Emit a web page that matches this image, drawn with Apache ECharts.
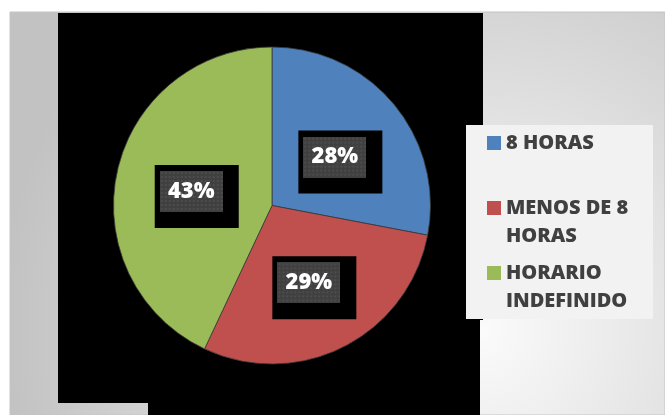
<!DOCTYPE html>
<html>
<head>
<meta charset="utf-8">
<script src="https://cdn.jsdelivr.net/npm/echarts@6/dist/echarts.min.js"></script>
<style>
  html, body { margin: 0; padding: 0; background: #ffffff; }
  #chart { width: 665px; height: 415px; }
</style>
</head>
<body>
<div id="chart"></div>
<script>
// Jornada laboral: share of each schedule type
const categories = ['8 HORAS', 'MENOS DE 8 HORAS', 'HORARIO INDEFINIDO'];
const legendLabels = ['8 HORAS', 'MENOS DE 8\nHORAS', 'HORARIO\nINDEFINIDO'];
const percentages = [28, 29, 43];
const sliceColors = ['#4f81bd', '#c0504d', '#9bbb59'];

// Dotted dark tile used behind each percentage label
function dottedTile(w, h) {
  const c = document.createElement('canvas');
  c.width = w; c.height = h;
  const g = c.getContext('2d');
  g.fillStyle = '#404040';
  g.fillRect(0, 0, w, h);
  g.fillStyle = '#4d4d4d';
  for (let y = 1; y < h; y += 4) {
    for (let x = 1; x < w; x += 4) {
      g.fillRect(x, y, 2, 2);
    }
  }
  return c;
}
const tile = dottedTile(63, 41);

const chart = echarts.init(document.getElementById('chart'), null, { renderer: 'canvas' });

// One legend block per entry; wrapped entries keep the swatch on their first line
const legendTops = [129, 166, 231];
const legends = categories.map((name, i) => {
  const wrapped = legendLabels[i].indexOf('\n') >= 0;
  return {
    orient: 'vertical',
    left: 487,
    top: legendTops[i],
    padding: 0,
    itemWidth: 14,
    itemHeight: 14,
    icon: 'rect',
    selectedMode: false,
    itemStyle: { borderWidth: 0 },
    data: [name],
    formatter: () => (wrapped ? '\n' : '') + legendLabels[i],
    textStyle: {
      fontFamily: 'Open Sans',
      fontWeight: 800,
      fontSize: 20,
      color: '#404040',
      lineHeight: 28
    }
  };
});

chart.setOption({
  animation: false,
  color: sliceColors,
  graphic: [
    {
      type: 'rect', z: -10, silent: true,
      shape: { x: 10, y: 12, width: 655, height: 403 },
      style: {
        fill: {
          type: 'radial', x: 480, y: 330, r: 480, global: true,
          colorStops: [
            { offset: 0, color: '#fbfbfb' },
            { offset: 1, color: '#c2c2c2' }
          ]
        },
        stroke: '#c4c4c4', lineWidth: 1
      }
    },
    {
      type: 'polygon', z: -9, silent: true,
      shape: { points: [[58, 13], [483, 13], [483, 320], [480, 320], [480, 415], [148, 415], [148, 403], [58, 403]] },
      style: { fill: '#000000' }
    },
    {
      type: 'rect', z: -8, silent: true,
      shape: { x: 466, y: 125, width: 187, height: 194 },
      style: { fill: '#f2f2f2' }
    }
  ],
  legend: legends,
  series: [{
    type: 'pie',
    center: [272, 205.5],
    radius: 158.5,
    startAngle: 90,
    clockwise: true,
    avoidLabelOverlap: false,
    itemStyle: { borderColor: '#3a3a3a', borderWidth: 0.8 },
    label: {
      show: true,
      position: 'inside',
      backgroundColor: '#000000',
      padding: [6, 16, 16, 5],
      formatter: (p) => '{v|' + p.value + '%}',
      rich: {
        v: {
          width: 63,
          height: 41,
          lineHeight: 41,
          align: 'center',
          backgroundColor: { image: tile },
          color: '#ffffff',
          fontFamily: 'Open Sans',
          fontWeight: 800,
          fontSize: 22
        }
      }
    },
    labelLayout: { dx: 5, dy: 9 },
    emphasis: { disabled: true },
    data: categories.map((name, i) => ({ name: name, value: percentages[i] }))
  }]
});
</script>
</body>
</html>
